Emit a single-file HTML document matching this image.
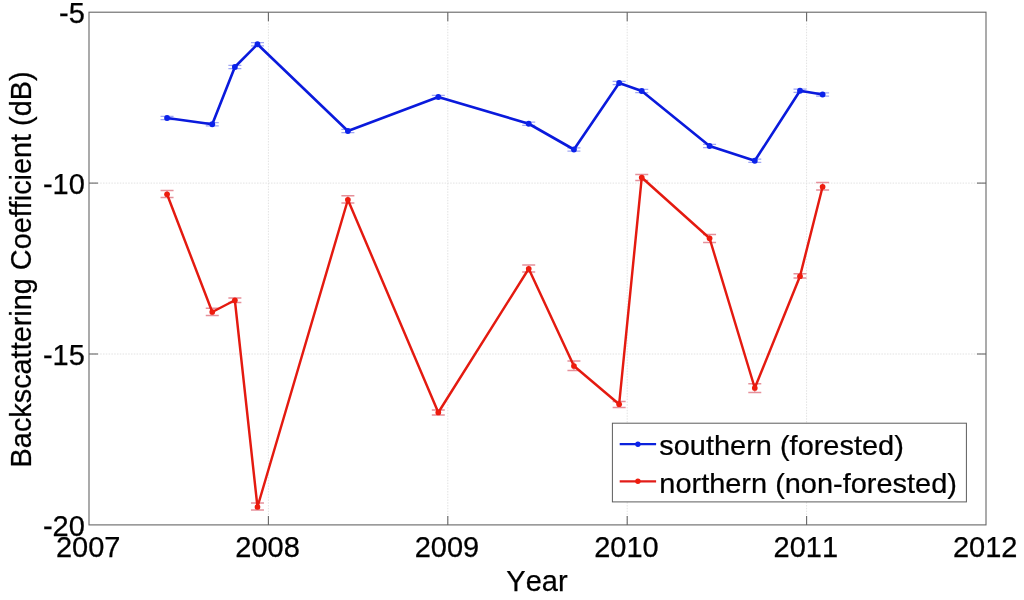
<!DOCTYPE html>
<html lang="en">
<head>
<meta charset="utf-8">
<title>Backscattering Coefficient by Year</title>
<style>
html,body{margin:0;padding:0;background:#fff;}
body{width:1024px;height:600px;overflow:hidden;}
svg{display:block;}
svg text{font-family:"Liberation Sans",sans-serif;font-size:29px;fill:#000;stroke:#000;stroke-width:0.25px;font-kerning:none;}
</style>
</head>
<body>
<svg width="1024" height="600" viewBox="0 0 1024 600">
<rect x="0" y="0" width="1024" height="600" fill="#ffffff"/>
<g stroke="#e2e2e2" stroke-width="1" stroke-dasharray="1.5 1.3" fill="none">
<line x1="268.40" y1="12.20" x2="268.40" y2="524.90"/>
<line x1="447.80" y1="12.20" x2="447.80" y2="524.90"/>
<line x1="627.20" y1="12.20" x2="627.20" y2="524.90"/>
<line x1="806.60" y1="12.20" x2="806.60" y2="524.90"/>
<line x1="89.00" y1="183.10" x2="986.00" y2="183.10"/>
<line x1="89.00" y1="354.00" x2="986.00" y2="354.00"/>
</g>
<g stroke="#666666" stroke-width="1.1" fill="none">
<rect x="89.00" y="12.20" width="897.00" height="512.70"/>
<line x1="268.40" y1="524.90" x2="268.40" y2="515.90"/>
<line x1="268.40" y1="12.20" x2="268.40" y2="21.20"/>
<line x1="447.80" y1="524.90" x2="447.80" y2="515.90"/>
<line x1="447.80" y1="12.20" x2="447.80" y2="21.20"/>
<line x1="627.20" y1="524.90" x2="627.20" y2="515.90"/>
<line x1="627.20" y1="12.20" x2="627.20" y2="21.20"/>
<line x1="806.60" y1="524.90" x2="806.60" y2="515.90"/>
<line x1="806.60" y1="12.20" x2="806.60" y2="21.20"/>
<line x1="89.00" y1="183.10" x2="98.00" y2="183.10"/>
<line x1="986.00" y1="183.10" x2="977.00" y2="183.10"/>
<line x1="89.00" y1="354.00" x2="98.00" y2="354.00"/>
<line x1="986.00" y1="354.00" x2="977.00" y2="354.00"/>
</g>
<g stroke="#a0a6f3" stroke-width="1.15" fill="none">
<path d="M160.55 116.40H173.55M160.55 119.60H173.55M167.05 116.40V119.60"/>
<path d="M205.76 122.65H218.76M205.76 125.85H218.76M212.26 122.65V125.85"/>
<path d="M228.37 65.40H241.37M228.37 68.60H241.37M234.87 65.40V68.60"/>
<path d="M250.97 42.65H263.97M250.97 45.85H263.97M257.47 42.65V45.85"/>
<path d="M341.39 129.40H354.39M341.39 132.60H354.39M347.89 129.40V132.60"/>
<path d="M431.81 95.40H444.81M431.81 98.60H444.81M438.31 95.40V98.60"/>
<path d="M522.23 122.15H535.23M522.23 125.35H535.23M528.73 122.15V125.35"/>
<path d="M567.44 147.90H580.44M567.44 151.10H580.44M573.94 147.90V151.10"/>
<path d="M612.65 81.40H625.65M612.65 84.60H625.65M619.15 81.40V84.60"/>
<path d="M635.25 89.40H648.25M635.25 92.60H648.25M641.75 89.40V92.60"/>
<path d="M703.07 144.40H716.07M703.07 147.60H716.07M709.57 144.40V147.60"/>
<path d="M748.28 159.15H761.28M748.28 162.35H761.28M754.78 159.15V162.35"/>
<path d="M793.49 89.15H806.49M793.49 92.35H806.49M799.99 89.15V92.35"/>
<path d="M816.10 92.90H829.10M816.10 96.10H829.10M822.60 92.90V96.10"/>
</g>
<g stroke="#e5909a" stroke-width="1.3" fill="none">
<path d="M160.55 190.50H173.55M160.55 197.50H173.55M167.05 190.50V197.50"/>
<path d="M205.76 308.25H218.76M205.76 315.50H218.76M212.26 308.25V315.50"/>
<path d="M228.37 298.00H241.37M228.37 302.50H241.37M234.87 298.00V302.50"/>
<path d="M250.97 503.00H263.97M250.97 510.00H263.97M257.47 503.00V510.00"/>
<path d="M341.39 195.75H354.39M341.39 203.00H354.39M347.89 195.75V203.00"/>
<path d="M431.81 410.00H444.81M431.81 415.00H444.81M438.31 410.00V415.00"/>
<path d="M522.23 265.00H535.23M522.23 272.00H535.23M528.73 265.00V272.00"/>
<path d="M567.44 361.00H580.44M567.44 370.50H580.44M573.94 361.00V370.50"/>
<path d="M612.65 401.50H625.65M612.65 407.50H625.65M619.15 401.50V407.50"/>
<path d="M635.25 174.50H648.25M635.25 180.50H648.25M641.75 174.50V180.50"/>
<path d="M703.07 234.50H716.07M703.07 242.50H716.07M709.57 234.50V242.50"/>
<path d="M748.28 383.75H761.28M748.28 392.50H761.28M754.78 383.75V392.50"/>
<path d="M793.49 273.75H806.49M793.49 278.00H806.49M799.99 273.75V278.00"/>
<path d="M816.10 182.50H829.10M816.10 190.00H829.10M822.60 182.50V190.00"/>
</g>
<polyline fill="none" stroke="#0a1adc" stroke-width="2.6" stroke-linejoin="round" points="167.05,118.00 212.26,124.25 234.87,67.00 257.47,44.25 347.89,131.00 438.31,97.00 528.73,123.75 573.94,149.50 619.15,83.00 641.75,91.00 709.57,146.00 754.78,160.75 799.99,90.75 822.60,94.50"/>
<g fill="#0b22ea">
<circle cx="167.05" cy="118.00" r="2.9"/>
<circle cx="212.26" cy="124.25" r="2.9"/>
<circle cx="234.87" cy="67.00" r="2.9"/>
<circle cx="257.47" cy="44.25" r="2.9"/>
<circle cx="347.89" cy="131.00" r="2.9"/>
<circle cx="438.31" cy="97.00" r="2.9"/>
<circle cx="528.73" cy="123.75" r="2.9"/>
<circle cx="573.94" cy="149.50" r="2.9"/>
<circle cx="619.15" cy="83.00" r="2.9"/>
<circle cx="641.75" cy="91.00" r="2.9"/>
<circle cx="709.57" cy="146.00" r="2.9"/>
<circle cx="754.78" cy="160.75" r="2.9"/>
<circle cx="799.99" cy="90.75" r="2.9"/>
<circle cx="822.60" cy="94.50" r="2.9"/>
</g>
<polyline fill="none" stroke="#e41a10" stroke-width="2.45" stroke-linejoin="round" points="167.05,194.25 212.26,312.00 234.87,300.25 257.47,507.00 347.89,199.75 438.31,412.50 528.73,268.75 573.94,366.00 619.15,404.25 641.75,177.50 709.57,238.25 754.78,388.00 799.99,276.25 822.60,186.75"/>
<g fill="#ee1c0e">
<circle cx="167.05" cy="194.25" r="2.85"/>
<circle cx="212.26" cy="312.00" r="2.85"/>
<circle cx="234.87" cy="300.25" r="2.85"/>
<circle cx="257.47" cy="507.00" r="2.85"/>
<circle cx="347.89" cy="199.75" r="2.85"/>
<circle cx="438.31" cy="412.50" r="2.85"/>
<circle cx="528.73" cy="268.75" r="2.85"/>
<circle cx="573.94" cy="366.00" r="2.85"/>
<circle cx="619.15" cy="404.25" r="2.85"/>
<circle cx="641.75" cy="177.50" r="2.85"/>
<circle cx="709.57" cy="238.25" r="2.85"/>
<circle cx="754.78" cy="388.00" r="2.85"/>
<circle cx="799.99" cy="276.25" r="2.85"/>
<circle cx="822.60" cy="186.75" r="2.85"/>
</g>
<rect x="612.4" y="423.2" width="354" height="78.7" fill="#fff" stroke="#5c5c5c" stroke-width="1"/>
<line x1="619.7" y1="444.2" x2="656.1" y2="444.2" stroke="#0c22dc" stroke-width="2.3"/><circle cx="637.9" cy="444.2" r="2.7" fill="#0b22ea"/>
<line x1="619.7" y1="481.3" x2="656.1" y2="481.3" stroke="#e21c18" stroke-width="2.3"/><circle cx="637.9" cy="481.3" r="2.7" fill="#ee1c0e"/>
<text transform="translate(659.3 455.45) scale(1 0.965)" style="font-size:28.95px">southern (forested)</text>
<text transform="translate(659.3 492.75) scale(1 0.965)" style="font-size:28.95px">northern (non-forested)</text>
<text x="88.20" y="557.3" text-anchor="middle">2007</text>
<text x="267.60" y="557.3" text-anchor="middle">2008</text>
<text x="447.00" y="557.3" text-anchor="middle">2009</text>
<text x="626.40" y="557.3" text-anchor="middle">2010</text>
<text x="805.80" y="557.3" text-anchor="middle">2011</text>
<text x="985.20" y="557.3" text-anchor="middle">2012</text>
<text x="84.8" y="23.40" text-anchor="end">-5</text>
<text x="84.8" y="194.30" text-anchor="end">-10</text>
<text x="84.8" y="365.20" text-anchor="end">-15</text>
<text x="84.8" y="536.10" text-anchor="end">-20</text>
<text x="537" y="591" text-anchor="middle">Year</text>
<text transform="translate(30.7 269.4) rotate(-90)" text-anchor="middle" style="font-size:28.85px">Backscattering Coefficient (dB)</text>
</svg>
</body>
</html>
